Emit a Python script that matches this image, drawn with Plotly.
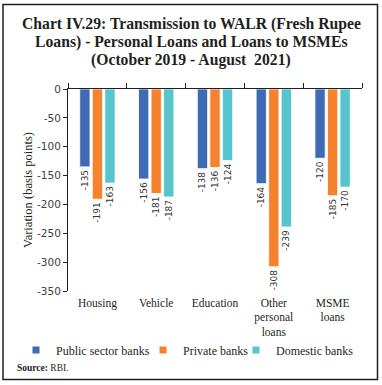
import plotly.graph_objects as go

categories = ["Housing", "Vehicle", "Education", "Other<br>personal<br>loans", "MSME<br>loans"]
public_sector = [-135, -156, -138, -164, -120]
private_banks = [-191, -181, -136, -308, -185]
domestic_banks = [-163, -187, -124, -239, -170]
series_names = ["Public sector banks", "Private banks", "Domestic banks"]
colors = ["#3F6BB4", "#F5822F", "#58C4CE"]
y_ticks = [0, -50, -100, -150, -200, -250, -300, -350]
title_lines = [
    "Chart IV.29: Transmission to WALR (Fresh Rupee",
    "Loans) - Personal Loans and Loans to MSMEs",
    "(October 2019 - August  2021)",
]

W, H = 382, 385
ML, MR, MT, MB = 68, 20, 89, 94
PW, PH = W - ML - MR, H - MT - MB
serif = "Liberation Serif"
legend_ids = ["legend", "legend2", "legend3"]
legend_left_px = [16, 143, 236]


def px_x(px):
    return (px - ML) / PW


def px_y(py):
    return (H - MB - py) / PH


fig = go.Figure()
for name, vals, col, lg in zip(series_names, [public_sector, private_banks, domestic_banks], colors, legend_ids):
    fig.add_trace(go.Bar(
        x=categories, y=vals, name=name, showlegend=False,
        marker=dict(color=col, line=dict(color="white", width=0.8)),
        text=[str(v) for v in vals], texttemplate="%{text}",
        textposition="outside", textangle=-90,
        constraintext="none", cliponaxis=False,
        textfont=dict(family="DejaVu Sans", size=9, color="#333333"),
    ))
    fig.add_trace(go.Scatter(
        x=[None], y=[None], mode="markers", name=name, legend=lg,
        marker=dict(symbol="square", size=7, color=col),
    ))

# helper trace for the top axis with boundary ticks
fig.add_trace(go.Scatter(x=categories, y=[None] * len(categories), xaxis="x2",
                         showlegend=False, hoverinfo="skip", mode="markers"))

legend_common = dict(
    orientation="h", xref="container", xanchor="left",
    yref="container", y=(H - 350) / H, yanchor="middle",
    font=dict(family=serif, size=12, color="#231F20"),
    itemwidth=30, bgcolor="rgba(0,0,0,0)", borderwidth=0,
)

title_annotations = [
    dict(text=f"<b>{t}</b>", xref="paper", yref="paper",
         x=px_x(W / 2), y=px_y(yc), xanchor="center", yanchor="middle", showarrow=False,
         font=dict(family=serif, size=15.7, color="#231F20"))
    for t, yc in zip(title_lines, [24, 42, 60])
]

fig.update_layout(
    template="none",
    width=W, height=H,
    margin=dict(l=ML, r=MR, t=MT, b=MB, autoexpand=False),
    paper_bgcolor="white", plot_bgcolor="white",
    barmode="group", bargap=0.36, bargroupgap=0.18,
    xaxis=dict(
        type="category", categoryarray=categories, range=[-0.5, 4.5],
        showline=False, ticks="", showgrid=False, automargin=False, zeroline=False,
        ticklabelstandoff=3,
        tickfont=dict(family=serif, size=11.5, color="#231F20"),
    ),
    xaxis2=dict(
        type="category", categoryarray=categories, range=[-0.5, 4.5],
        overlaying="x", side="top", anchor="y", automargin=False,
        showline=True, linecolor="#231F20", linewidth=1,
        ticks="outside", ticklen=5, tickcolor="#231F20", tickson="boundaries",
        showticklabels=False, showgrid=False, zeroline=False,
    ),
    yaxis=dict(
        range=[-350, 0], tickvals=y_ticks, ticktext=[str(v) for v in y_ticks],
        showline=True, linecolor="#231F20", linewidth=1, automargin=False,
        ticks="outside", ticklen=4, tickcolor="#231F20",
        showgrid=False, zeroline=False,
        tickfont=dict(family="DejaVu Sans", size=10.5, color="#404040"),
        title=dict(text="Variation (basis points)", standoff=1,
                   font=dict(family=serif, size=12.5, color="#231F20")),
    ),
    legend=dict(x=legend_left_px[0] / W, **legend_common),
    legend2=dict(x=legend_left_px[1] / W, **legend_common),
    legend3=dict(x=legend_left_px[2] / W, **legend_common),
    annotations=title_annotations + [dict(
        text="<b>Source:</b> RBI.", xref="paper", yref="paper",
        x=px_x(15), y=px_y(368), xanchor="left", yanchor="middle", showarrow=False,
        font=dict(family=serif, size=9.5, color="#231F20"),
    )],
    shapes=[dict(
        type="rect", xref="paper", yref="paper",
        x0=px_x(3), x1=px_x(377.5), y0=px_y(379.5), y1=px_y(4.5),
        line=dict(color="#231F20", width=1.5), layer="above",
    )],
)

fig.write_html(
    "out.html",
    config={"displayModeBar": False},
    post_script="document.body.style.margin='0';document.body.style.overflow='hidden';",
)
